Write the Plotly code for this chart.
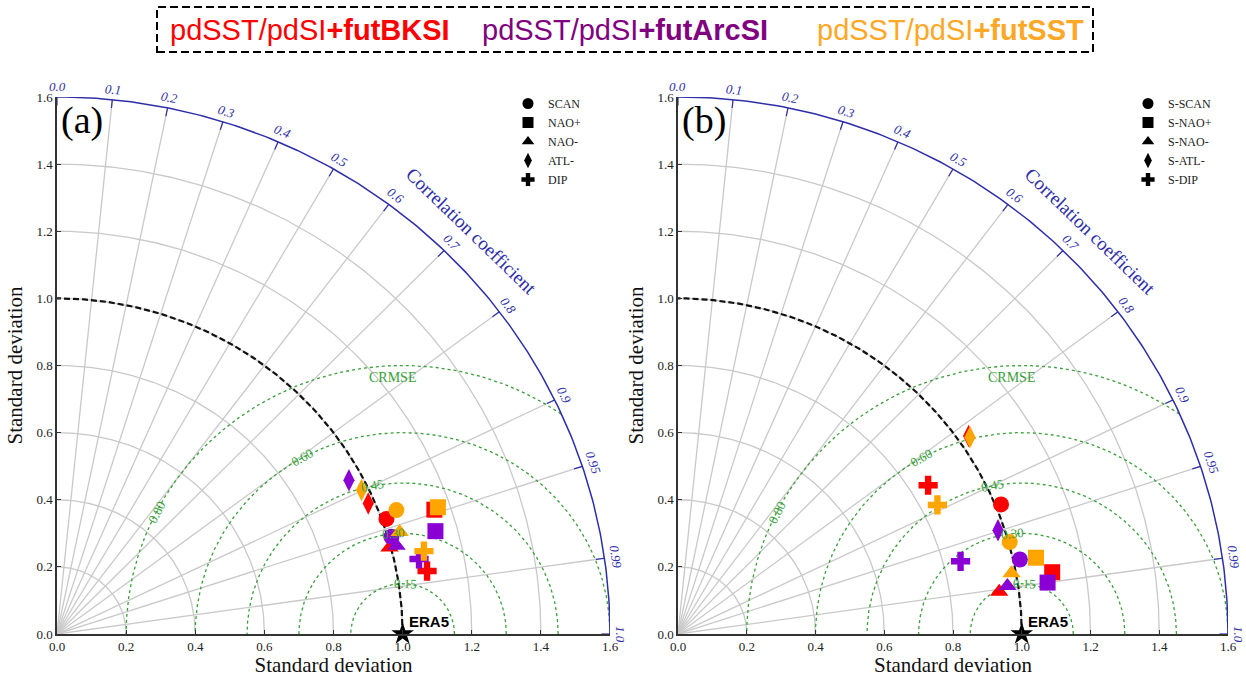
import numpy as np
import plotly.graph_objects as go

# ---------------- data ----------------
patterns_a = ["SCAN", "NAO+", "NAO-", "ATL-", "DIP"]
patterns_b = ["S-SCAN", "S-NAO+", "S-NAO-", "S-ATL-", "S-DIP"]
experiments = ["futBKSI", "futArcSI", "futSST"]

# panel (a): order SCAN, NAO+, NAO-, ATL-, DIP
std_a_bksi = [1.013, 1.153, 0.996, 0.981, 1.087]
corr_a_bksi = [0.941, 0.947, 0.966, 0.918, 0.985]
std_a_arcsi = [1.010, 1.137, 1.017, 0.961, 1.071]
corr_a_arcsi = [0.958, 0.963, 0.966, 0.879, 0.978]
std_a_sst = [1.049, 1.165, 1.037, 0.980, 1.090]
corr_a_sst = [0.936, 0.946, 0.956, 0.899, 0.974]

# panel (b): order S-SCAN, S-NAO+, S-NAO-, S-ATL-, S-DIP
std_b_bksi = [1.016, 1.104, 0.943, 1.031, 0.852]
corr_b_bksi = [0.925, 0.986, 0.991, 0.820, 0.854]
std_b_arcsi = [1.019, 1.086, 0.969, 0.981, 0.850]
corr_b_arcsi = [0.976, 0.990, 0.989, 0.949, 0.967]
std_b_sst = [1.003, 1.066, 0.987, 1.032, 0.847]
corr_b_sst = [0.962, 0.977, 0.983, 0.823, 0.891]

ref_std = 1.0
ref_name = "ERA5"
std_ticks = [0.0, 0.2, 0.4, 0.6, 0.8, 1.0, 1.2, 1.4, 1.6]
corr_ticks = [0.0, 0.1, 0.2, 0.3, 0.4, 0.5, 0.6, 0.7, 0.8, 0.9, 0.95, 0.99, 1.0]
corr_tick_labels = ["0.0", "0.1", "0.2", "0.3", "0.4", "0.5", "0.6", "0.7", "0.8", "0.9", "0.95", "0.99", "1.0"]
crmse_levels = [0.15, 0.30, 0.45, 0.60, 0.80]
crmse_labels = ["0.15", "0.30", "0.45", "0.60", "0.80"]

# ---------------- style ----------------
SMAX = 1.6
exp_colors = ["#ff0000", "#8a00d4", "#ffa500"]
title_colors = ["#ff0000", "#800080", "#ffa726"]
symbols = ["circle", "square", "triangle-up", "diamond-tall", "cross"]
sizes = [16, 16, 16, 16, 16]
BLUE = "#2e2ea8"
GRID = "#c9c9c9"
GREEN = "#3aa03a"
SERIF = "Liberation Serif"
SANS = "Liberation Sans"
W, H = 1246, 677
crmse_label_angles = [87, 95, 101, 119, 153]   # degrees, around the reference point

panels = [
    dict(xa="x", ya="y", patterns=patterns_a, legend="legend", tag="(a)",
         std=[std_a_bksi, std_a_arcsi, std_a_sst], corr=[corr_a_bksi, corr_a_arcsi, corr_a_sst],
         dom=[57 / W, 610 / W]),
    dict(xa="x2", ya="y2", patterns=patterns_b, legend="legend2", tag="(b)",
         std=[std_b_bksi, std_b_arcsi, std_b_sst], corr=[corr_b_bksi, corr_b_arcsi, corr_b_sst],
         dom=[678 / W, 1228 / W]),
]
ydom = [(H - 634) / H, (H - 97) / H]


def to_paper(p, x, y):
    d = p["dom"]
    return d[0] + x / SMAX * (d[1] - d[0]), ydom[0] + y / SMAX * (ydom[1] - ydom[0])


fig = go.Figure()
annotations = []

for p in panels:
    xa, ya = p["xa"], p["ya"]
    # gray std arcs
    t = np.linspace(0, np.pi / 2, 200)
    for s in std_ticks[1:-1]:
        fig.add_trace(go.Scatter(x=s * np.cos(t), y=s * np.sin(t), mode="lines",
                                 line=dict(color=GRID, width=1.3), xaxis=xa, yaxis=ya,
                                 showlegend=False, hoverinfo="skip"))
    # gray radial lines
    rx, ry = [], []
    for c in corr_ticks[1:-1]:
        th = np.arccos(c)
        rx += [0, SMAX * np.cos(th), None]
        ry += [0, SMAX * np.sin(th), None]
    fig.add_trace(go.Scatter(x=rx, y=ry, mode="lines", line=dict(color=GRID, width=1.3),
                             xaxis=xa, yaxis=ya, showlegend=False, hoverinfo="skip"))
    # CRMSE circles
    tt = np.linspace(0, np.pi, 400)
    for lev in crmse_levels:
        cx = ref_std + lev * np.cos(tt)
        cy = lev * np.sin(tt)
        inside = np.hypot(cx, cy) <= SMAX + 1e-9
        cx = np.where(inside, cx, np.nan)
        cy = np.where(inside, cy, np.nan)
        fig.add_trace(go.Scatter(x=cx, y=cy, mode="lines", connectgaps=False,
                                 line=dict(color=GREEN, width=1.3, dash="3px,3px"),
                                 xaxis=xa, yaxis=ya, showlegend=False, hoverinfo="skip"))
    # reference dashed arc
    fig.add_trace(go.Scatter(x=ref_std * np.cos(t), y=ref_std * np.sin(t), mode="lines",
                             line=dict(color="#111111", width=2.2, dash="6px,3px"),
                             xaxis=xa, yaxis=ya, showlegend=False, hoverinfo="skip"))
    # outer blue arc
    fig.add_trace(go.Scatter(x=SMAX * np.cos(t), y=SMAX * np.sin(t), mode="lines",
                             line=dict(color=BLUE, width=1.5),
                             xaxis=xa, yaxis=ya, showlegend=False, hoverinfo="skip"))
    # blue ticks on arc
    tx, ty = [], []
    for c in corr_ticks:
        th = np.arccos(c)
        tx += [SMAX * np.cos(th), (SMAX - 0.025) * np.cos(th), None]
        ty += [SMAX * np.sin(th), (SMAX - 0.025) * np.sin(th), None]
    fig.add_trace(go.Scatter(x=tx, y=ty, mode="lines", line=dict(color=BLUE, width=1.2),
                             xaxis=xa, yaxis=ya, showlegend=False, hoverinfo="skip"))
    # correlation tick labels (paper coords so they are not hidden outside the range)
    for c, lab in zip(corr_ticks, corr_tick_labels):
        th = np.arccos(c)
        R = SMAX + 0.032
        px, py = to_paper(p, R * np.cos(th), R * np.sin(th))
        annotations.append(dict(x=px, y=py, xref="paper", yref="paper",
                                xanchor="center", yanchor="middle",
                                text=f"<i>{lab}</i>", showarrow=False,
                                textangle=90 - np.degrees(th),
                                font=dict(family=SERIF, size=13, color=BLUE)))
    px, py = to_paper(p, 1.20, 1.20)
    annotations.append(dict(x=px, y=py, xref="paper", yref="paper", text="Correlation coefficient",
                            xanchor="center", yanchor="middle",
                            showarrow=False, textangle=44,
                            font=dict(family=SERIF, size=19, color=BLUE)))
    # CRMSE labels
    for lev, lab, ang in zip(crmse_levels, crmse_labels, crmse_label_angles):
        a = np.radians(ang)
        annotations.append(dict(x=ref_std + lev * np.cos(a), y=lev * np.sin(a), xref=xa, yref=ya,
                                text=lab, showarrow=False, textangle=-(ang - 90),
                                font=dict(family=SERIF, size=13, color=GREEN)))
    annotations.append(dict(x=ref_std - 0.03, y=0.765, xref=xa, yref=ya, text="CRMSE",
                            showarrow=False, font=dict(family=SERIF, size=14, color=GREEN)))
    # data markers
    for k in range(3):
        for j in range(5):
            s = p["std"][k][j]
            c = p["corr"][k][j]
            fig.add_trace(go.Scatter(x=[s * c], y=[s * np.sqrt(1 - c * c)], mode="markers",
                                     marker=dict(symbol=symbols[j], size=sizes[j], color=exp_colors[k],
                                                 line=dict(width=0)),
                                     xaxis=xa, yaxis=ya, showlegend=False,
                                     name=f"{experiments[k]} {p['patterns'][j]}"))
    # reference star
    fig.add_trace(go.Scatter(x=[ref_std], y=[0], mode="markers", cliponaxis=False,
                             marker=dict(symbol="star", size=17, color="black"),
                             xaxis=xa, yaxis=ya, showlegend=False, name=ref_name))
    annotations.append(dict(x=ref_std + 0.012, y=0.005, xref=xa, yref=ya, text=f"<b>{ref_name}</b>",
                            showarrow=False, xanchor="left", yanchor="bottom",
                            font=dict(family=SANS, size=15, color="black")))
    # legend entries (black symbols)
    for j in range(5):
        fig.add_trace(go.Scatter(x=[None], y=[None], mode="markers",
                                 marker=dict(symbol=symbols[j], size=11, color="black"),
                                 name=p["patterns"][j], legend=p["legend"],
                                 xaxis=xa, yaxis=ya, showlegend=True))
    # panel tag
    px, py = to_paper(p, 0.0, 1.6)
    annotations.append(dict(x=px, y=py, xref="paper", yref="paper", text=p["tag"], showarrow=False,
                            xanchor="left", yanchor="top", xshift=2,
                            font=dict(family=SERIF, size=38, color="black")))

# top header
header_x = [310 / W, 625 / W, 950 / W]
for k in range(3):
    annotations.append(dict(x=header_x[k], y=1 - 30 / H, xref="paper", yref="paper",
                            xanchor="center", yanchor="middle",
                            text=f"pdSST/pdSI<b>+{experiments[k]}</b>", showarrow=False,
                            font=dict(family=SANS, size=29, color=title_colors[k])))

axis_common = dict(range=[0, SMAX], tickvals=std_ticks, ticktext=[f"{v:.1f}" for v in std_ticks],
                   showgrid=False, zeroline=False, showline=True, linecolor="#333333", linewidth=1.5,
                   ticks="inside", ticklen=4, tickcolor="#333333",
                   tickfont=dict(family=SERIF, size=13, color="#222222"), automargin=False)

fig.update_layout(
    width=W, height=H, margin=dict(l=0, r=0, t=0, b=0),
    plot_bgcolor="white", paper_bgcolor="white",
    xaxis=dict(domain=panels[0]["dom"], anchor="y", **axis_common,
               title=dict(text="Standard deviation", standoff=6, font=dict(family=SERIF, size=21, color="#111"))),
    yaxis=dict(domain=ydom, anchor="x", **axis_common,
               title=dict(text="Standard deviation", standoff=8, font=dict(family=SERIF, size=21, color="#111"))),
    xaxis2=dict(domain=panels[1]["dom"], anchor="y2", **axis_common,
                title=dict(text="Standard deviation", standoff=6, font=dict(family=SERIF, size=21, color="#111"))),
    yaxis2=dict(domain=ydom, anchor="x2", **axis_common,
                title=dict(text="Standard deviation", standoff=8, font=dict(family=SERIF, size=21, color="#111"))),
    legend=dict(x=508 / W, y=1 - 89 / H, xanchor="left", yanchor="top", bgcolor="rgba(0,0,0,0)",
                font=dict(family=SERIF, size=12, color="#222"), tracegroupgap=0),
    legend2=dict(x=1128 / W, y=1 - 89 / H, xanchor="left", yanchor="top", bgcolor="rgba(0,0,0,0)",
                 font=dict(family=SERIF, size=12, color="#222"), tracegroupgap=0),
    annotations=annotations,
    shapes=[dict(type="rect", xref="paper", yref="paper", x0=157 / W, x1=1093 / W,
                 y0=1 - 52 / H, y1=1 - 7 / H, line=dict(color="black", width=2, dash="8px,4px"))],
    showlegend=True,
)

fig.write_html("out.html")
